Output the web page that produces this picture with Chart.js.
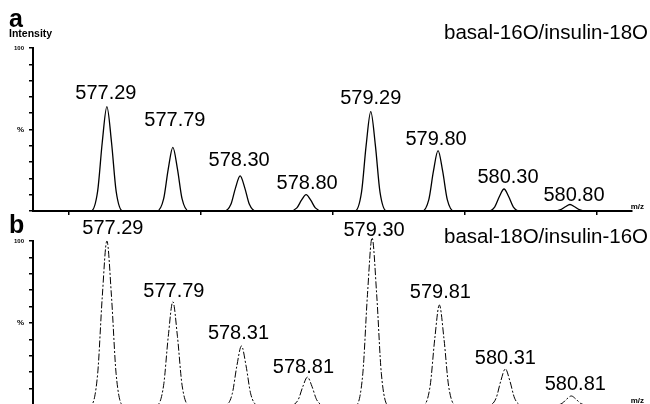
<!DOCTYPE html>
<html>
<head>
<meta charset="utf-8">
<script src="https://cdn.jsdelivr.net/npm/chart.js@4/dist/chart.umd.min.js"></script>
<style>
  html, body { margin: 0; padding: 0; background: #fff; overflow: hidden; }
  #wrap { position: relative; width: 650px; height: 404px; overflow: hidden; background: #fff; }
  canvas { position: absolute; left: 0; }
  #cA { top: 0px; }
  #cB { top: 200px; }
</style>
</head>
<body>
<div id="wrap">
  <canvas id="cA" width="650" height="216"></canvas>
  <canvas id="cB" width="650" height="210"></canvas>
</div>
<script>
// ---------- DATA ----------
// x-axis range (m/z) and tick values
const mzMin = 576.73;
const mzMax = 581.27;
const mzTicks = [577, 578, 579, 580, 581];

// Panel a: basal-16O/insulin-18O — labelled peak centroids and heights (%)
const peakMzA    = [577.29, 577.79, 578.30, 578.80, 579.29, 579.80, 580.30, 580.80];
const peakIntA   = [64, 39, 21.5, 10, 61, 37, 13.5, 4];
const peakLabelA = ["577.29", "577.79", "578.30", "578.80", "579.29", "579.80", "580.30", "580.80"];

// Panel a profile trace (m/z, %)
const profileMzA = [
  576.73,
  577.17, 577.22, 577.255, 577.29, 577.325, 577.36, 577.41,
  577.67, 577.72, 577.755, 577.79, 577.825, 577.86, 577.91,
  578.18, 578.23, 578.265, 578.30, 578.335, 578.37, 578.42,
  578.68, 578.73, 578.765, 578.80, 578.835, 578.87, 578.92,
  579.17, 579.22, 579.255, 579.29, 579.325, 579.36, 579.41,
  579.68, 579.73, 579.765, 579.80, 579.835, 579.87, 579.92,
  580.18, 580.23, 580.265, 580.30, 580.335, 580.37, 580.42,
  580.68, 580.73, 580.765, 580.80, 580.835, 580.87, 580.92,
  581.27
];
const profileIntA = [
  0,
  0, 12.2, 42.2, 64, 42.2, 12.2, 0,
  0, 7.4, 25.7, 39, 25.7, 7.4, 0,
  0, 4.1, 14.2, 21.5, 14.2, 4.1, 0,
  0, 1.9, 6.6, 10, 6.6, 1.9, 0,
  0, 11.6, 40.3, 61, 40.3, 11.6, 0,
  0, 7.0, 24.4, 37, 24.4, 7.0, 0,
  0, 2.6, 8.9, 13.5, 8.9, 2.6, 0,
  0, 0.8, 2.6, 4, 2.6, 0.8, 0,
  0
];

// Panel b: basal-18O/insulin-16O
const peakMzB    = [577.29, 577.79, 578.31, 578.81, 579.30, 579.81, 580.31, 580.81];
const peakIntB   = [100, 63, 36, 17, 102, 61, 22, 5.5];
const peakLabelB = ["577.29", "577.79", "578.31", "578.81", "579.30", "579.81", "580.31", "580.81"];

const profileMzB = [
  576.73,
  577.17, 577.22, 577.255, 577.29, 577.325, 577.36, 577.41,
  577.67, 577.72, 577.755, 577.79, 577.825, 577.86, 577.91,
  578.19, 578.24, 578.275, 578.31, 578.345, 578.38, 578.43,
  578.69, 578.74, 578.775, 578.81, 578.845, 578.88, 578.93,
  579.18, 579.23, 579.265, 579.30, 579.335, 579.37, 579.42,
  579.69, 579.74, 579.775, 579.81, 579.845, 579.88, 579.93,
  580.19, 580.24, 580.275, 580.31, 580.345, 580.38, 580.43,
  580.69, 580.74, 580.775, 580.81, 580.845, 580.88, 580.93,
  581.27
];
const profileIntB = [
  0,
  0, 19, 66, 100, 66, 19, 0,
  0, 12.0, 41.6, 63, 41.6, 12.0, 0,
  0, 6.8, 23.8, 36, 23.8, 6.8, 0,
  0, 3.2, 11.2, 17, 11.2, 3.2, 0,
  0, 19.4, 67.3, 102, 67.3, 19.4, 0,
  0, 11.6, 40.3, 61, 40.3, 11.6, 0,
  0, 4.2, 14.5, 22, 14.5, 4.2, 0,
  0, 1.0, 3.6, 5.5, 3.6, 1.0, 0,
  0
];

// ---------- LAYOUT (label nudges in px: [dx, gap above apex]) ----------
const labelNudgeA = [[-1, 8], [2, 21], [-1, 10], [1, 6], [0, 8], [-2, 6], [4, 6], [4, 3]];
const labelNudgeB = [[6, 7], [1, 5], [-3, 7], [-4, 4], [2, 2], [1, 7], [0, 5], [4, 6]];

const FONT = "'Liberation Sans', Arial, sans-serif";

const annotate = {
  id: 'annotate',
  afterDraw(chart, args, o) {
    const ctx = chart.ctx;
    const xs = chart.scales.x, ys = chart.scales.y;
    const ca = chart.chartArea;
    ctx.save();
    ctx.fillStyle = '#000';
    // peak labels
    ctx.font = '20px ' + FONT;
    ctx.textAlign = 'center';
    ctx.textBaseline = 'alphabetic';
    o.mz.forEach((m, i) => {
      const px = xs.getPixelForValue(m) + o.nudge[i][0];
      const py = ys.getPixelForValue(o.val[i]) - o.nudge[i][1];
      ctx.fillText(o.labels[i], px, py);
    });
    // panel letter
    ctx.textAlign = 'left';
    ctx.font = 'bold 25px ' + FONT;
    ctx.fillText(o.letter, 9, o.letterY);
    if (o.ylabel) {
      ctx.font = 'bold 10.5px ' + FONT;
      ctx.fillText(o.ylabel, 9, o.ylabelY);
    }
    // title
    ctx.textAlign = 'right';
    ctx.font = '20.5px ' + FONT;
    ctx.fillText(o.title, 648, o.titleY);
    // m/z
    ctx.font = 'bold 8px ' + FONT;
    ctx.fillText('m/z', 644, ca.bottom - 2);
    ctx.restore();
  }
};

function makeChart(id, mz, val, padTop, dash, ann) {
  const pts = mz.map((m, i) => ({ x: m, y: val[i] }));
  return new Chart(document.getElementById(id), {
    type: 'line',
    data: {
      datasets: [{
        data: pts,
        borderColor: '#000',
        borderWidth: dash ? 1 : 1.3,
        borderDash: dash || [],
        pointRadius: 0,
        fill: false,
        cubicInterpolationMode: 'monotone',
        clip: false
      }]
    },
    options: {
      responsive: false,
      animation: false,
      devicePixelRatio: 1,
      layout: { padding: { top: padTop, right: 18, bottom: 0, left: 0 } },
      plugins: { legend: { display: false }, tooltip: { enabled: false }, annotate: ann },
      scales: {
        x: {
          type: 'linear',
          min: mzMin,
          max: mzMax,
          afterBuildTicks: s => { s.ticks = mzTicks.map(v => ({ value: v })); },
          ticks: { display: false },
          grid: { drawOnChartArea: false, drawTicks: true, tickLength: 4, color: '#000', lineWidth: 1.5 },
          border: { display: true, color: '#000', width: 2 },
          afterFit: s => { s.height = 5; s.paddingLeft = 0; s.paddingRight = 0; }
        },
        y: {
          min: 0,
          max: 100,
          ticks: {
            stepSize: 10,
            color: '#000',
            padding: 5,
            autoSkip: false,
            callback: v => (v === 100 ? '100' : (v === 50 ? '%' : '')),
            font: ctx => (ctx.tick && ctx.tick.value === 100)
              ? { family: FONT, size: 6, weight: 'bold' }
              : { family: FONT, size: 8, weight: 'bold' }
          },
          grid: { drawOnChartArea: false, drawTicks: true, tickLength: 4, color: '#000', lineWidth: 1.5 },
          border: { display: true, color: '#000', width: 2 },
          afterFit: s => { s.width = 33; s.paddingTop = 0; s.paddingBottom = 0; }
        }
      }
    },
    plugins: [annotate]
  });
}

makeChart('cA', profileMzA, profileIntA, 48, null, {
  mz: peakMzA, val: peakIntA, labels: peakLabelA, nudge: labelNudgeA,
  letter: 'a', letterY: 27, ylabel: 'Intensity', ylabelY: 37,
  title: 'basal-16O/insulin-18O', titleY: 39
});
makeChart('cB', profileMzB, profileIntB, 41, [7, 2, 2, 2], {
  mz: peakMzB, val: peakIntB, labels: peakLabelB, nudge: labelNudgeB,
  letter: 'b', letterY: 33, ylabel: null, ylabelY: 0,
  title: 'basal-18O/insulin-16O', titleY: 43
});
</script>
</body>
</html>
